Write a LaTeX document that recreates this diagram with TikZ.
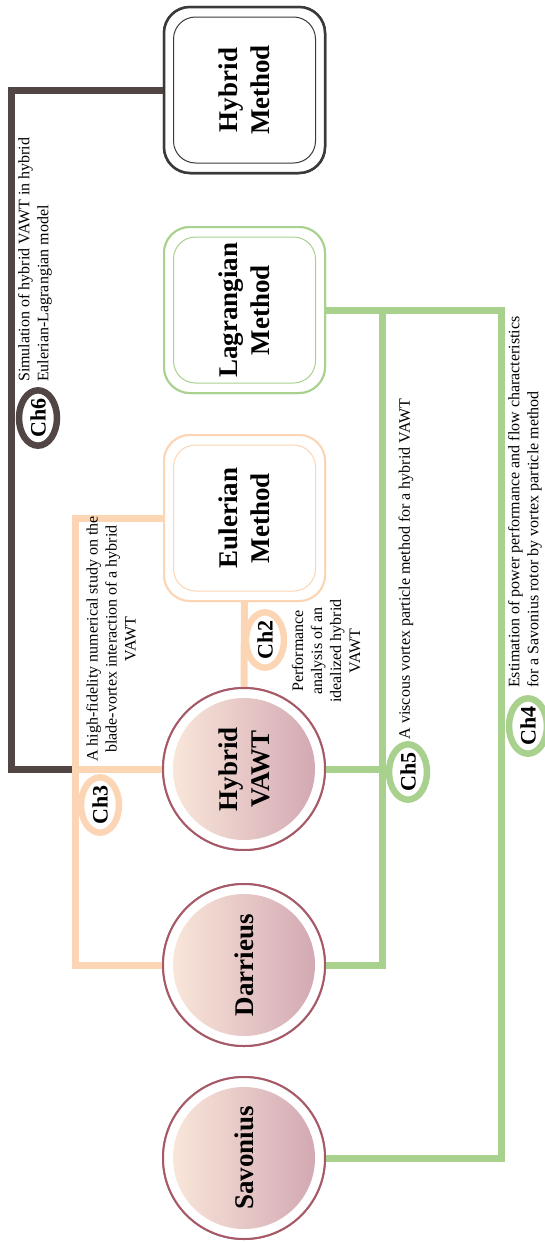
\documentclass[tikz,border=0pt]{standalone}
\usepackage{fontspec}
\setmainfont{Liberation Serif}
\usetikzlibrary{shapes.geometric}
\definecolor{dkline}{RGB}{82,70,68}
\definecolor{orl}{RGB}{252,213,180}
\definecolor{grl}{RGB}{169,209,142}
\definecolor{hmbox}{RGB}{58,58,58}
\definecolor{circb}{RGB}{166,90,104}
\definecolor{shl}{RGB}{249,230,217}
\definecolor{shr}{RGB}{211,169,179}
\begin{document}
\begin{tikzpicture}[x=1pt,y=-1pt,
  conn/.style={line width=7pt},
  outerbox/.style={rectangle, rounded corners=26pt, minimum width=161pt, minimum height=166pt, fill=white, line width=2pt, inner sep=0pt},
  innerbox/.style={rectangle, rounded corners=22pt, minimum width=142pt, minimum height=146pt, line width=1pt, inner sep=0pt},
  bigl/.style={rotate=90, align=center, font=\fontsize{27}{32}\selectfont\bfseries, inner sep=0pt},
  ring/.style={ellipse, rotate=90, minimum width=52pt, minimum height=38pt, inner sep=0pt, line width=6.5pt, fill=white, font=\fontsize{22}{24}\selectfont\bfseries},
  small/.style={rotate=90, font=\fontsize{16}{19}\selectfont, inner sep=0pt},
  wheel/.style={circle, minimum size=162pt, draw=circb, line width=2pt, fill=white, inner sep=0pt},
]
\useasboundingbox (0,0) rectangle (544,1242);
% boxes
\node[outerbox, draw=hmbox, line width=2.5pt] (HM) at (244.5,90) {};
\node[outerbox, draw=grl] (Lag) at (244.5,310) {};
\node[outerbox, draw=orl] (Eul) at (244.5,518) {};
% wheels
\node[wheel] (HV) at (244,769) {};
\node[wheel] (Dar) at (244,965) {};
\node[wheel] (Sav) at (244,1158) {};
% junction coordinates
\coordinate (dkc) at (11.5,90);
\coordinate (oT) at (75,518);
\coordinate (j3) at (75,769);
\coordinate (oB) at (75,965);
\coordinate (gM) at (382,310);
\coordinate (gMb) at (382,965);
\coordinate (gR) at (501,310);
\coordinate (gRb) at (501,1158);
% connectors
\draw[conn, dkline] (HM.west) -- (dkc) |- (j3);
\draw[conn, orl] (Eul.west) -- (oT) -- (oB) -- (Dar.west);
\draw[conn, orl] (j3) -- (HV.west);
\draw[conn, orl] (Eul.south) -- (HV.north);
\draw[conn, grl] (Lag.east) -- (gR) -- (gRb) -- (Sav.east);
\draw[conn, grl] (gM) -- (gMb) -- (Dar.east);
\draw[conn, grl] (HV.east) -- (HV.east -| gM);
% redraw boxes on top
\node[outerbox, draw=hmbox, line width=2.5pt] at (HM) {};
\node[outerbox, draw=grl] at (Lag) {};
\node[outerbox, draw=orl] at (Eul) {};
\node[innerbox, draw=hmbox] (HMi) at (HM) {};
\node[innerbox, draw=grl] (Lagi) at (Lag) {};
\node[innerbox, draw=orl] (Euli) at (Eul) {};
\node[bigl] (HMt) at (HM) {Hybrid\\Method};
\node[bigl] (Lagt) at (Lag) {Lagrangian\\Method};
\node[bigl] (Eult) at (Eul) {Eulerian\\Method};
% wheels on top
\foreach \w in {HV,Dar,Sav}{
  \node[wheel] at (\w) {};
  \shade[left color=shl, right color=shr] (\w) circle (71pt);
}
\node[bigl] (HVt) at (HV) {Hybrid\\VAWT};
\node[bigl] (Dart) at (Dar) {Darrieus};
\node[bigl] (Savt) at (Sav) {Savonius};
% chapter rings
\node[ring, draw=dkline] (c6) at (38,418) {Ch6};
\node[ring, draw=orl] (c3) at (100,805) {Ch3};
\node[ring, draw=orl] (c2) at (265,640) {Ch2};
\node[ring, draw=grl] (c5) at (408,772) {Ch5};
\node[ring, draw=grl] (c4) at (528,726) {Ch4};
% descriptions
\node[small, anchor=west, align=left] (t6) at (35,382) {Simulation of hybrid VAWT in hybrid\\Eulerian-Lagrangian model};
\node[small, align=center] (t3) at (111,639) {A high-fidelity numerical study on the\\blade-vortex interaction of a hybrid\\VAWT};
\node[small, align=center] (t2) at (326,651) {Performance\\analysis of an\\idealized hybrid\\VAWT};
\node[small] (t5) at (406,569) {A viscous vortex particle method for a hybrid VAWT};
\node[small, anchor=west, align=left] (t4) at (525,688) {Estimation of power performance and flow characteristics\\for a Savonius rotor by vortex particle method};
\end{tikzpicture}
\end{document}
